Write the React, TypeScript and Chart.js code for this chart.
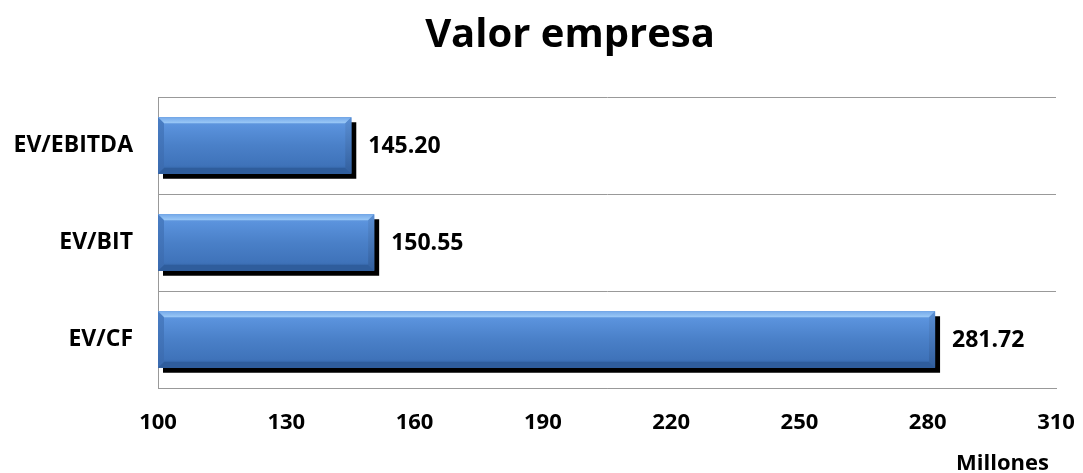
import React, { useEffect, useRef } from "react";
import { Chart, registerables } from "chart.js";

Chart.register(...registerables);

const categories = ["EV/EBITDA", "EV/BIT", "EV/CF"];
const values = [145.2, 150.55, 281.72];
const xTicks = [100, 130, 160, 190, 220, 250, 280, 310];
const chartTitle = "Valor empresa";
const axisUnit = "Millones";

const FONT = "'Open Sans', Lato, sans-serif";

const textPlugin = {
  id: "texts",
  afterDraw(chart: any) {
    const ctx = chart.ctx;
    ctx.save();
    ctx.fillStyle = "#000000";
    ctx.font = `bold 40px ${FONT}`;
    ctx.textAlign = "center";
    ctx.textBaseline = "alphabetic";
    ctx.fillText(chartTitle, 570, 47);
    ctx.font = `bold 22px ${FONT}`;
    ctx.textAlign = "right";
    ctx.fillText(axisUnit, 1049, 470);
    ctx.restore();
  },
};

const barStylePlugin = {
  id: "barStyle",
  beforeDatasetsDraw(chart: any) {
    const ctx = chart.ctx;
    ctx.save();
    ctx.shadowColor = "#000000";
    ctx.shadowOffsetX = 5;
    ctx.shadowOffsetY = 5;
    ctx.shadowBlur = 0;
  },
  afterDatasetsDraw(chart: any) {
    const ctx = chart.ctx;
    ctx.restore();
    const area = chart.chartArea;
    const meta = chart.getDatasetMeta(0);
    ctx.save();
    ctx.beginPath();
    ctx.rect(area.left, area.top, area.right - area.left, area.bottom - area.top);
    ctx.clip();
    meta.data.forEach((el: any) => {
      const p = el.getProps(["x", "y", "base", "height"], true);
      const left = Math.max(Math.min(p.base, p.x), area.left);
      const right = Math.max(p.base, p.x);
      const top = p.y - p.height / 2;
      const bottom = p.y + p.height / 2;
      const b = 6;
      const g = ctx.createLinearGradient(0, top, 0, bottom);
      g.addColorStop(0, "#6aa0e2");
      g.addColorStop(0.15, "#5a92dc");
      g.addColorStop(0.5, "#4a80c8");
      g.addColorStop(0.85, "#3f73ba");
      g.addColorStop(1, "#30609f");
      ctx.fillStyle = g;
      ctx.fillRect(left, top, right - left, bottom - top);
      const gt = ctx.createLinearGradient(0, top, 0, top + b);
      gt.addColorStop(0, "#76aaea");
      gt.addColorStop(1, "#9ccaf7");
      ctx.fillStyle = gt;
      ctx.beginPath();
      ctx.moveTo(left, top);
      ctx.lineTo(right, top);
      ctx.lineTo(right - b, top + b);
      ctx.lineTo(left + b, top + b);
      ctx.closePath();
      ctx.fill();
      ctx.fillStyle = "#2f5d9c";
      ctx.beginPath();
      ctx.moveTo(left, bottom);
      ctx.lineTo(right, bottom);
      ctx.lineTo(right - b, bottom - b);
      ctx.lineTo(left + b, bottom - b);
      ctx.closePath();
      ctx.fill();
      const gr = ctx.createLinearGradient(0, top, 0, bottom);
      gr.addColorStop(0, "#5a8fd4");
      gr.addColorStop(1, "#325f9e");
      ctx.fillStyle = gr;
      ctx.beginPath();
      ctx.moveTo(right, top);
      ctx.lineTo(right, bottom);
      ctx.lineTo(right - b, bottom - b);
      ctx.lineTo(right - b, top + b);
      ctx.closePath();
      ctx.fill();
      const gl = ctx.createLinearGradient(0, top, 0, bottom);
      gl.addColorStop(0, "#4a7ec4");
      gl.addColorStop(1, "#3a6aae");
      ctx.fillStyle = gl;
      ctx.beginPath();
      ctx.moveTo(left, top);
      ctx.lineTo(left, bottom);
      ctx.lineTo(left + b, bottom - b);
      ctx.lineTo(left + b, top + b);
      ctx.closePath();
      ctx.fill();
    });
    ctx.restore();

    ctx.save();
    ctx.fillStyle = "#000000";
    ctx.font = `bold 23px ${FONT}`;
    ctx.textAlign = "left";
    ctx.textBaseline = "middle";
    meta.data.forEach((el: any, i: number) => {
      const p = el.getProps(["x", "y"], true);
      ctx.fillText(values[i].toFixed(2), p.x + 17, p.y + 1);
    });
    ctx.restore();
  },
};

export default function App() {
  const ref = useRef<HTMLCanvasElement | null>(null);
  useEffect(() => {
    if (!ref.current) return;
    const chart = new Chart(ref.current, {
      type: "bar",
      data: {
        labels: categories,
        datasets: [
          {
            data: values,
            backgroundColor: "#4a80c8",
            borderWidth: 0,
            base: 100,
            barPercentage: 0.58,
            categoryPercentage: 1,
          } as any,
        ],
      },
      options: {
        indexAxis: "y",
        animation: false,
        responsive: false,
        layout: { padding: { left: 0, right: 27, top: 97, bottom: 0 } },
        plugins: {
          legend: { display: false },
          tooltip: { enabled: false },
          title: { display: false },
        },
        scales: {
          x: {
            type: "linear",
            min: 100,
            max: 310,
            afterBuildTicks: (scale: any) => {
              scale.ticks = xTicks.map((v) => ({ value: v }));
            },
            afterFit: (scale: any) => {
              scale.height = 85;
              scale.paddingLeft = 0;
              scale.paddingRight = 0;
            },
            grid: { display: false, drawTicks: false },
            border: { display: true, color: "#999999", width: 1 },
            ticks: {
              color: "#000000",
              font: { family: FONT, size: 22, weight: "bold" },
              padding: 22,
              maxRotation: 0,
            },
          },
          y: {
            afterFit: (scale: any) => {
              scale.width = 158;
              scale.paddingTop = 0;
              scale.paddingBottom = 0;
            },
            grid: {
              display: true,
              offset: true,
              color: "#999999",
              lineWidth: 1,
              drawTicks: false,
            },
            border: { display: true, color: "#999999", width: 1 },
            ticks: {
              color: "#000000",
              font: { family: FONT, size: 23, weight: "bold" },
              padding: 25,
            },
          },
        },
      },
      plugins: [barStylePlugin, textPlugin],
    } as any);
    return () => chart.destroy();
  }, []);
  return (
    <div style={{ position: "absolute", left: 0, top: 0, width: 1083, height: 473 }}>
      <canvas ref={ref} width={1083} height={473} />
    </div>
  );
}
